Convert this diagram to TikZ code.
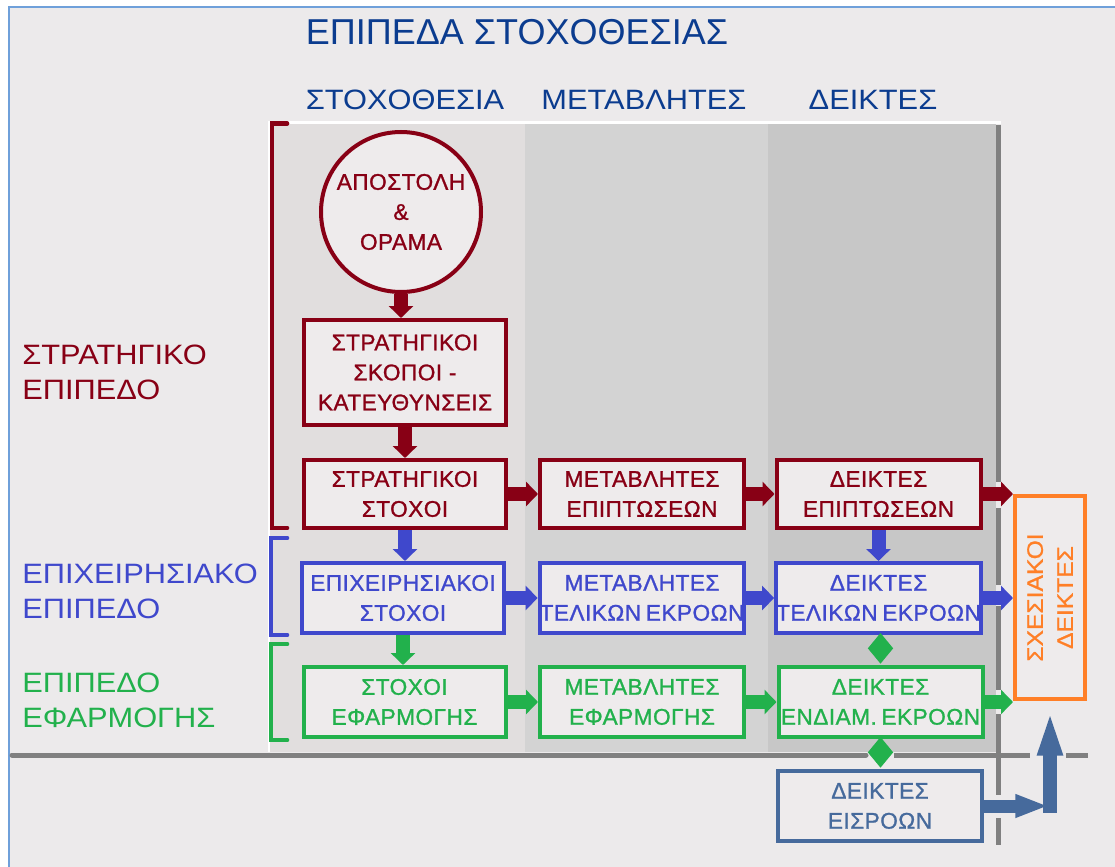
\documentclass[tikz,border=0pt]{standalone}
\usepackage{fontspec}
\setmainfont{Liberation Sans}
\newfontfamily\wideA[LetterSpace=2,FakeBold=1.1]{Liberation Sans}
\newfontfamily\wideB[FakeStretch=1.1]{Liberation Sans}
\newfontfamily\wideC[FakeStretch=1.1,FakeBold=0.9]{Liberation Sans}
\usetikzlibrary{arrows.meta}
\definecolor{dred}{HTML}{880015}
\definecolor{dblue}{HTML}{3F48CC}
\definecolor{dgreen}{HTML}{22B14C}
\definecolor{dorange}{HTML}{FF7F27}
\definecolor{steelc}{HTML}{466A9C}
\definecolor{titleblue}{HTML}{0B3C8F}
\definecolor{bgc}{HTML}{ECEAEB}
\definecolor{boxbg}{HTML}{EEEBEC}
\definecolor{colA}{HTML}{E1DEDE}
\definecolor{colB}{HTML}{D3D3D3}
\definecolor{colC}{HTML}{C7C7C7}
\definecolor{grayline}{HTML}{808080}
\definecolor{framec}{HTML}{6FA0DA}
\tikzset{
  x=0.75pt, y=-0.75pt,
  box/.style={draw, line width=3pt, fill=boxbg, inner sep=0pt, align=center,
    font=\wideA\fontsize{17}{22.5}\selectfont,
    minimum width=151.5pt, minimum height=51pt},
  rbox/.style={box, draw=dred, text=dred},
  bbox/.style={box, draw=dblue, text=dblue, minimum height=52.5pt},
  gbox/.style={box, draw=dgreen, text=dgreen, minimum height=52.5pt},
  sbox/.style={box, draw=steelc, text=steelc, minimum height=52.5pt},
  blk/.style={line width=10.5pt, -{Triangle[length=9pt,width=18pt]}},
  dia/.style={line width=1pt, -{Diamond[length=23pt,width=19pt]}, shorten >=1pt},
  head/.style={text=titleblue, inner sep=0pt, font=\wideB\fontsize{21}{21}\selectfont},
  lvl/.style={anchor=west, inner sep=0pt, align=left, font=\wideB\fontsize{21}{26.5}\selectfont},
  gline/.style={grayline, line width=3.75pt},
}
\begin{document}
\begin{tikzpicture}
\useasboundingbox (0,0) rectangle (1115,867);
\fill[white] (0,0) rectangle (1115,867);
\fill[bgc] (9,7) rectangle (1115,867);
\draw[framec, line width=1.5pt] (9,867) -- (9,7) -- (1115,7);

% column backgrounds
\fill[colA] (270,124) rectangle (525,752);
\fill[colB] (525,124) rectangle (768,752);
\fill[colC] (768,124) rectangle (996,752);
\draw[white, line width=2.5pt] (268,122.5) -- (1001,122.5);
\draw[white, line width=1.5pt] (268.5,122) -- (268.5,752);

% gray separators
\draw[gline] (998.5,125) -- (998.5,482);
\draw[gline] (998.5,508) -- (998.5,585);
\draw[gline] (998.5,606) -- (998.5,690);
\draw[gline] (998.5,714) -- (998.5,795);
\draw[gline] (998.5,818) -- (998.5,845);
\draw[gline, line cap=round] (12,755) -- (866,755);
\draw[gline] (894,755) -- (1030,755);
\draw[gline] (1066,755) -- (1088,755);

% title and headers
\node[text=titleblue, inner sep=0pt, font=\fontsize{27}{27}\selectfont] (title) at (517,32) {ΕΠΙΠΕΔΑ ΣΤΟΧΟΘΕΣΙΑΣ};
\node[head] (h1) at (405,100) {ΣΤΟΧΟΘΕΣΙΑ};
\node[head] (h2) at (644,100) {ΜΕΤΑΒΛΗΤΕΣ};
\node[head] (h3) at (873,100) {ΔΕΙΚΤΕΣ};

% level labels
\node[lvl, text=dred] (lstr) at (22,372.5) {ΣΤΡΑΤΗΓΙΚΟ\\ΕΠΙΠΕΔΟ};
\node[lvl, text=dblue] (lepi) at (22,591.5) {ΕΠΙΧΕΙΡΗΣΙΑΚΟ\\ΕΠΙΠΕΔΟ};
\node[lvl, text=dgreen] (lefa) at (22,700.5) {ΕΠΙΠΕΔΟ\\ΕΦΑΡΜΟΓΗΣ};

% brackets
\draw[dred, line width=3.5pt, line cap=round] (287,123.5) -- (272,123.5) -- (272,528) -- (287,528);
\draw[dblue, line width=3.5pt, line cap=round] (287,538) -- (271,538) -- (271,635) -- (287,635);
\draw[dgreen, line width=3.5pt, line cap=round] (287,644) -- (271,644) -- (271,740) -- (287,740);

% nodes
\node[circle, draw=dred, line width=3pt, fill=boxbg, minimum size=120pt, inner sep=0pt,
  text=dred, align=center, font=\wideA\fontsize{17}{22.5}\selectfont] (mis) at (401,212) {ΑΠΟΣΤΟΛΗ\\\&\\ΟΡΑΜΑ};
\node[rbox, minimum height=78.75pt] (skop) at (405,372.5) {ΣΤΡΑΤΗΓΙΚΟΙ\\ΣΚΟΠΟΙ -\\ΚΑΤΕΥΘΥΝΣΕΙΣ};
\node[rbox] (sst) at (405,494) {ΣΤΡΑΤΗΓΙΚΟΙ\\ΣΤΟΧΟΙ};
\node[rbox, minimum width=153pt] (mep) at (642,494) {ΜΕΤΑΒΛΗΤΕΣ\\ΕΠΙΠΤΩΣΕΩΝ};
\node[rbox, minimum width=153pt] (dep) at (878.5,494) {ΔΕΙΚΤΕΣ\\ΕΠΙΠΤΩΣΕΩΝ};

\node[bbox] (est) at (403,598) {ΕΠΙΧΕΙΡΗΣΙΑΚΟΙ\\ΣΤΟΧΟΙ};
\node[bbox, minimum width=153pt] (mte) at (642,598) {ΜΕΤΑΒΛΗΤΕΣ\\ΤΕΛΙΚΩΝ\hspace{3.5pt}ΕΚΡΟΩΝ};
\node[bbox, minimum width=153pt] (dte) at (878.5,598) {ΔΕΙΚΤΕΣ\\ΤΕΛΙΚΩΝ\hspace{3.5pt}ΕΚΡΟΩΝ};

\node[gbox] (sef) at (404.5,702) {ΣΤΟΧΟΙ\\ΕΦΑΡΜΟΓΗΣ};
\node[gbox, minimum width=153pt] (mef) at (642,702) {ΜΕΤΑΒΛΗΤΕΣ\\ΕΦΑΡΜΟΓΗΣ};
\node[gbox, minimum width=153pt] (den) at (880.5,702) {ΔΕΙΚΤΕΣ\\ΕΝΔΙΑΜ.\hspace{3.5pt}ΕΚΡΟΩΝ};

\node[sbox, minimum width=153pt] (eis) at (880,806) {ΔΕΙΚΤΕΣ\\ΕΙΣΡΟΩΝ};

\node[draw=dorange, line width=3pt, fill=boxbg, minimum width=52.5pt, minimum height=152.25pt, inner sep=0pt,
  label={[rotate=90, align=center, text=dorange, inner sep=0pt, font=\wideC\fontsize{16.8}{22.5}\selectfont]center:ΣΧΕΣΙΑΚΟΙ\\ΔΕΙΚΤΕΣ}] (sxe) at (1050,597.5) {};

% red connectors
\draw[blk, dred] (mis.south) -- (mis.south |- skop.north);
\draw[blk, dred] (skop.south) -- (sst.north);
\draw[blk, dred] (sst.east) -- (mep.west);
\draw[blk, dred] (mep.east) -- (dep.west);
\draw[blk, dred] (dep.east) -- (dep.east -| sxe.west);

% blue connectors
\draw[blk, dblue] (sst.south) -- (sst.south |- est.north);
\draw[blk, dblue] (dep.south) -- (dep.south |- dte.north);
\draw[blk, dblue] (est.east) -- (mte.west);
\draw[blk, dblue] (mte.east) -- (dte.west);
\draw[blk, dblue] (dte.east) -- (dte.east -| sxe.west);

% green connectors
\draw[blk, dgreen] (est.south) -- (est.south |- sef.north);
\draw[dia, dgreen] (den.north |- dte.south) -- (den.north);
\draw[blk, dgreen] (sef.east) -- (mef.west);
\draw[blk, dgreen] (mef.east) -- (den.west);
\draw[blk, dgreen] (den.east) -- (den.east -| sxe.west);
\draw[dia, dgreen] (den.south) -- (den.south |- eis.north);

% input indicators arrow
\coordinate (elb) at (eis.east -| sxe.south);
\draw[steelc, line width=9.75pt, -{Triangle[length=25pt,width=16pt]}] (eis.east) -- ([xshift=-1pt]elb);
\draw[steelc, line width=11pt, -{Triangle[length=38pt,width=16pt]}, shorten >=3pt] ([yshift=-5pt]elb) -- (sxe.south);
\end{tikzpicture}
\end{document}
